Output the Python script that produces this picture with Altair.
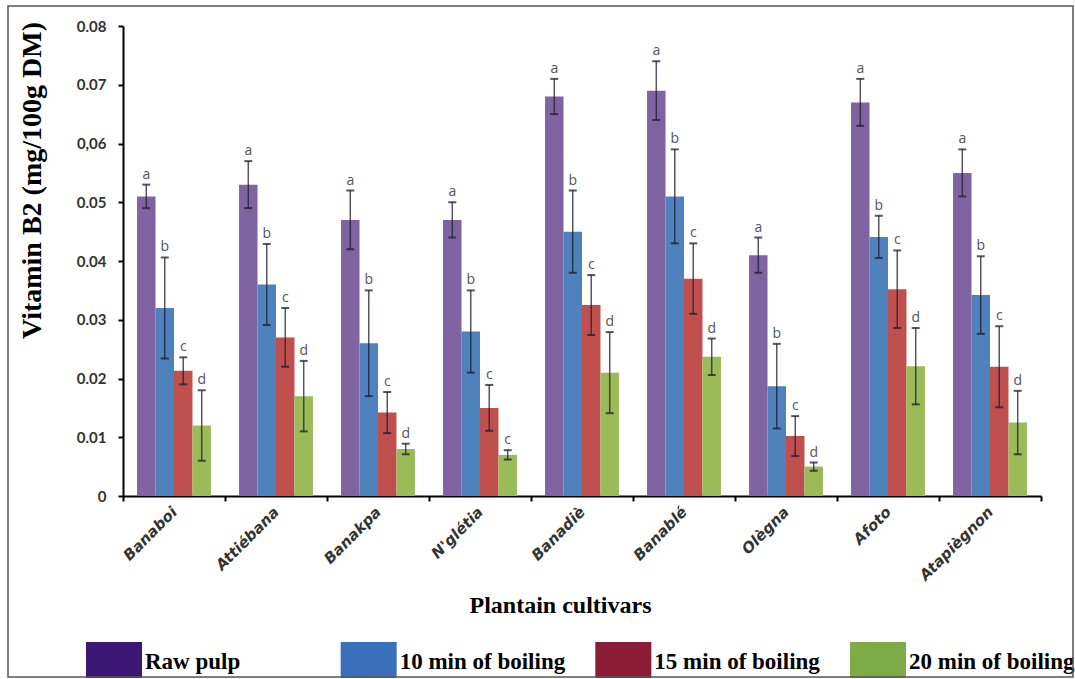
import altair as alt
import pandas as pd

# Plantain cultivars and cooking treatments
cultivars = ["Banaboi", "Attiébana", "Banakpa", "N'glétia", "Banadiè",
             "Banablé", "Olègna", "Afoto", "Atapiègnon"]
treatments = ["Raw pulp", "10 min of boiling", "15 min of boiling", "20 min of boiling"]

# Vitamin B2 means (mg/100g DM) and standard deviations
raw_pulp = [0.051, 0.053, 0.047, 0.047, 0.068, 0.069, 0.041, 0.067, 0.055]
raw_pulp_sd = [0.002, 0.004, 0.005, 0.003, 0.003, 0.005, 0.003, 0.004, 0.004]
boil_10 = [0.032, 0.036, 0.026, 0.028, 0.045, 0.051, 0.0187, 0.0441, 0.0342]
boil_10_sd = [0.0086, 0.0069, 0.009, 0.007, 0.007, 0.008, 0.0072, 0.0036, 0.0066]
boil_15 = [0.0213, 0.027, 0.0142, 0.015, 0.0325, 0.037, 0.0102, 0.0352, 0.022]
boil_15_sd = [0.0023, 0.005, 0.0035, 0.0039, 0.0051, 0.006, 0.0034, 0.0066, 0.0069]
boil_20 = [0.012, 0.017, 0.008, 0.007, 0.021, 0.0237, 0.005, 0.0221, 0.0125]
boil_20_sd = [0.006, 0.006, 0.0009, 0.0008, 0.0069, 0.0031, 0.0007, 0.0065, 0.0054]

# Significance letters per cultivar (raw, 10, 15, 20 min)
letters = [
    ["a", "b", "c", "d"], ["a", "b", "c", "d"], ["a", "b", "c", "d"],
    ["a", "b", "c", "c"], ["a", "b", "c", "d"], ["a", "b", "c", "d"],
    ["a", "b", "c", "d"], ["a", "b", "c", "d"], ["a", "b", "c", "d"],
]

y_ticks = [0, 0.01, 0.02, 0.03, 0.04, 0.05, 0.06, 0.07, 0.08]

bar_colors = ["#8064A2", "#4F81BD", "#C0504D", "#9BBB59"]
swatch_colors = ["#3c1674", "#3a70bb", "#8a1c33", "#7dab45"]

means = [raw_pulp, boil_10, boil_15, boil_20]
sds = [raw_pulp_sd, boil_10_sd, boil_15_sd, boil_20_sd]

rows = []
for i, c in enumerate(cultivars):
    for j, t in enumerate(treatments):
        rows.append({
            "cultivar": c,
            "treatment": t,
            "value": means[j][i],
            "lo": means[j][i] - sds[j][i],
            "hi": means[j][i] + sds[j][i],
            "letter": letters[i][j],
        })
df = pd.DataFrame(rows)

# Key entries: one row per treatment
key_df = pd.DataFrame({"series": treatments})

W, H = 918, 470

x_enc = alt.X(
    "cultivar:N", sort=cultivars,
    scale=alt.Scale(paddingInner=0, paddingOuter=0),
    axis=alt.Axis(
        title="Plantain cultivars", tickBand="extent",
        labelAngle=-45, labelAlign="right", labelBaseline="middle",
        labelPadding=8, labelFont="DejaVu Sans", labelFontStyle="italic",
        labelFontWeight="bold", labelFontSize=15, labelColor="#333333",
        domainColor="black", domainWidth=2, tickColor="black", tickWidth=2,
        tickSize=5, titleFont="Liberation Serif", titleFontSize=24,
        titleFontWeight="bold", titleColor="black", titleX=437, titleY=109,
        titleAlign="center", titleBaseline="middle",
    ),
)
xo_enc = alt.XOffset(
    "treatment:N", sort=treatments,
    scale=alt.Scale(paddingInner=0, paddingOuter=0.76),
)
y_scale = alt.Scale(domain=[0, 0.08], nice=False)

base = alt.Chart(df)

bars = base.mark_bar().encode(
    x=x_enc,
    xOffset=xo_enc,
    y=alt.Y(
        "value:Q", scale=y_scale,
        axis=alt.Axis(
            title="Vitamin B2 (mg/100g DM)", values=y_ticks, grid=False,
            labelExpr="datum.value == 0 ? '0' : (abs(datum.value - 0.06) < 1e-9 ? '0,06' : format(datum.value, '.2f'))",
            labelFont="Lato", labelFontWeight="bold", labelFontSize=15,
            labelColor="#333333", labelPadding=12,
            domainColor="black", domainWidth=2, tickColor="black",
            tickWidth=2, tickSize=5,
            titleFont="Liberation Serif", titleFontSize=28,
            titleFontWeight="bold", titleColor="black",
            titleAngle=270, titleX=-91, titleY=154,
            titleAlign="center", titleBaseline="middle",
        ),
    ),
    color=alt.Color(
        "treatment:N", sort=treatments,
        scale=alt.Scale(domain=treatments, range=bar_colors),
        legend=None,
    ),
)

err_color = "#1e1e2e"
x_plain = alt.X("cultivar:N", sort=cultivars)
xo_plain = alt.XOffset("treatment:N", sort=treatments)

whiskers = base.mark_rule(color=err_color, strokeWidth=1.5, opacity=0.75).encode(
    x=x_plain, xOffset=xo_plain, y="lo:Q", y2="hi:Q",
)

caps_hi = base.mark_tick(color=err_color, thickness=2, size=8, opacity=0.75,
                         orient="horizontal").encode(
    x=x_plain, xOffset=xo_plain, y="hi:Q",
)
caps_lo = base.mark_tick(color=err_color, thickness=2, size=8, opacity=0.75,
                         orient="horizontal").encode(
    x=x_plain, xOffset=xo_plain, y="lo:Q",
)

labels = base.mark_text(
    baseline="bottom", dy=-3, font="Open Sans", fontSize=14, color="#555555"
).encode(
    x=x_plain, xOffset=xo_plain, y="hi:Q", text="letter:N",
)

main = alt.layer(bars, whiskers, caps_hi, caps_lo, labels)

# Key along the bottom: entries spread by a point scale of their own
key_x = alt.X(
    "series:N", sort=treatments,
    scale=alt.Scale(type="point", domain=treatments, range=[-9, 755], padding=0),
    axis=None,
)
key_swatch = alt.Chart(key_df).mark_bar(size=56).encode(
    x=key_x,
    y=alt.value(616),
    y2=alt.value(652),
    fill=alt.Fill(
        "series:N", sort=treatments,
        scale=alt.Scale(domain=treatments, range=swatch_colors),
        legend=None,
    ),
)
key_text = alt.Chart(key_df).mark_text(
    align="left", baseline="middle", dx=31, font="Liberation Serif",
    fontSize=23, fontWeight="bold", color="black",
).encode(
    x=key_x,
    y=alt.value(636),
    text="series:N",
)
key = alt.layer(key_swatch, key_text)

frame = alt.Chart(pd.DataFrame({"k": [0]})).mark_rect(
    fillOpacity=0, stroke="#555555", strokeWidth=1.5
).encode(
    x=alt.value(-115), x2=alt.value(950), y=alt.value(-20), y2=alt.value(651)
)

chart = alt.layer(main, key, frame).resolve_scale(x="independent").properties(
    width=W, height=H,
    padding={"left": 123, "top": 26, "right": 34, "bottom": 183},
    autosize=alt.AutoSizeParams(type="none"),
    background="white",
).configure_view(stroke=None)

chart.save("out.html", embed_options={"renderer": "svg", "actions": False})
